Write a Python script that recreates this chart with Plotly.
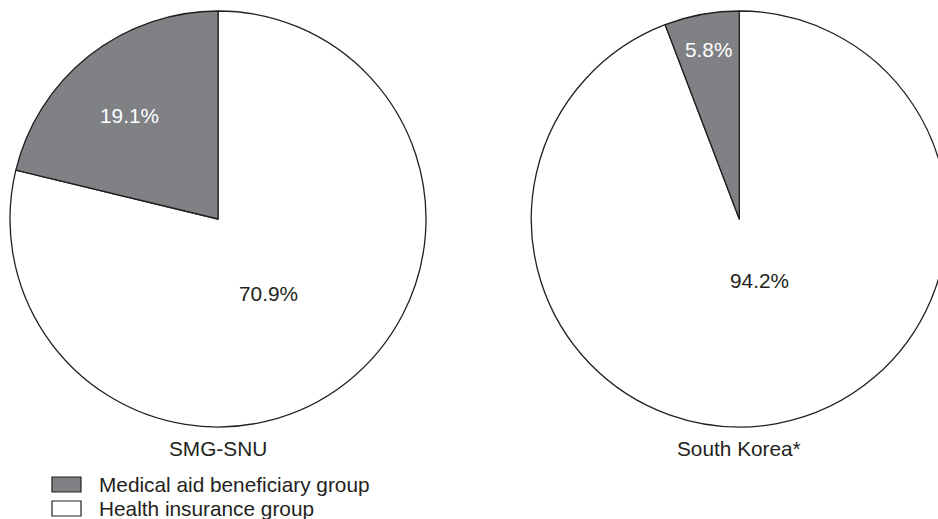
import plotly.graph_objects as go

# Share of each insurance group, by population
groups = ["Medical aid beneficiary group", "Health insurance group"]
smg_snu_values = [19.1, 70.9]
south_korea_values = [5.8, 94.2]
pie_titles = ["SMG-SNU", "South Korea*"]

GRAY = "#808185"
WHITE = "#ffffff"
INK = "#231f20"
GROUP_COLOURS = [GRAY, WHITE]
FONT = "Liberation Sans, Arial, sans-serif"
SIZE = 20.8

W, H = 950, 519
CY = 219           # vertical centre of both pies (px from top)
R = 208            # pie radius (px)
CENTRES = [218, 739.3]


def px_x(v):
    return v / W


def px_y(v):
    return 1 - v / H


domains = [dict(x=[px_x(c - R), px_x(c + R)], y=[px_y(CY + R), px_y(CY - R)]) for c in CENTRES]

# Label offsets (dx, dy in px from each pie centre) for each slice's percentage
label_offsets = [
    [(-89, -103.5), (50, 74)],
    [(-31.3, -169), (20.2, 61)],
]


def pie(values, domain):
    # Health insurance slice first, so the medical-aid slice sits just left of 12 o'clock
    return go.Pie(
        labels=groups[::-1],
        values=values[::-1],
        textinfo="none",
        marker=dict(colors=GROUP_COLOURS[::-1], line=dict(color=INK, width=1.3)),
        sort=False,
        direction="counterclockwise",
        rotation=0,
        domain=domain,
        showlegend=False,
        hoverinfo="label+value",
    )


series = [smg_snu_values, south_korea_values]
fig = go.Figure([pie(vals, dom) for vals, dom in zip(series, domains)])

annotations = []
for vals, cx, offsets in zip(series, CENTRES, label_offsets):
    for v, (dx, dy), colour in zip(vals, offsets, [WHITE, INK]):
        annotations.append(dict(
            x=px_x(cx + dx), y=px_y(CY + dy), xref="paper", yref="paper",
            text=f"{v:.1f}%", showarrow=False, xanchor="center", yanchor="middle",
            font=dict(family=FONT, size=SIZE, color=colour),
        ))

for title, cx in zip(pie_titles, CENTRES):
    annotations.append(dict(
        x=px_x(cx), y=px_y(448), xref="paper", yref="paper",
        text=title, showarrow=False, xanchor="center", yanchor="middle",
        font=dict(family=FONT, size=SIZE, color=INK),
    ))

# Legend: swatch boxes with their labels
shapes = []
for i, (name, colour) in enumerate(zip(groups, GROUP_COLOURS)):
    top = 477 + i * 24
    shapes.append(dict(
        type="rect", xref="paper", yref="paper",
        x0=px_x(52), x1=px_x(81), y0=px_y(top + 15), y1=px_y(top),
        fillcolor=colour, line=dict(color=INK, width=1.2),
    ))
    annotations.append(dict(
        x=px_x(97), y=px_y(top + 7.5), xref="paper", yref="paper",
        text=name, showarrow=False, xanchor="left", yanchor="middle",
        font=dict(family=FONT, size=SIZE, color=INK),
    ))

fig.update_layout(
    width=W, height=H,
    margin=dict(l=0, r=0, t=0, b=0),
    paper_bgcolor="white", plot_bgcolor="white",
    annotations=annotations, shapes=shapes,
    font=dict(family=FONT, color=INK),
)

fig.write_html(
    "out.html",
    post_script="document.documentElement.style.overflow='hidden';document.body.style.overflow='hidden';document.body.style.margin='0';",
)
